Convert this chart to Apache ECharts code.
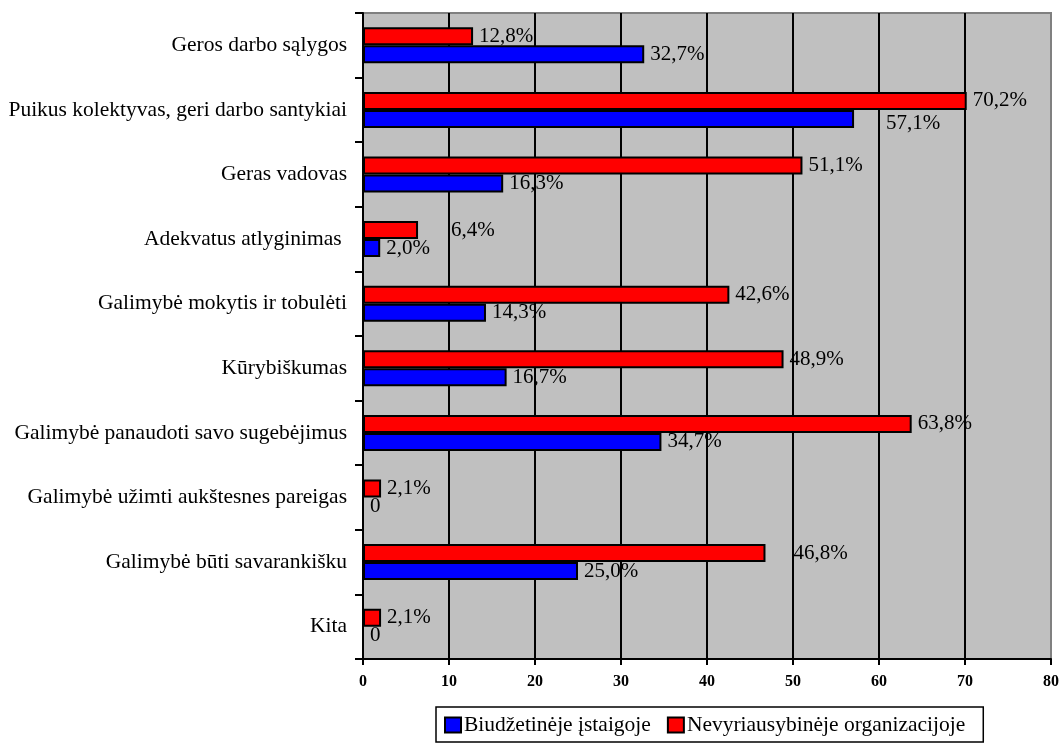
<!DOCTYPE html>
<html>
<head>
<meta charset="utf-8">
<script src="https://cdn.jsdelivr.net/npm/echarts@6/dist/echarts.min.js"></script>
<style>
  html, body { margin: 0; padding: 0; background: #fff; }
  #chart { width: 1062px; height: 745px; }
</style>
</head>
<body>
<div id="chart"></div>
<script>
// Survey categories, top to bottom
const categories = [
  'Geros darbo sąlygos',
  'Puikus kolektyvas, geri darbo santykiai',
  'Geras vadovas',
  'Adekvatus atlyginimas ',
  'Galimybė mokytis ir tobulėti',
  'Kūrybiškumas',
  'Galimybė panaudoti savo sugebėjimus',
  'Galimybė užimti aukštesnes pareigas',
  'Galimybė būti savarankišku',
  'Kita'
];

const seriesNames = ['Biudžetinėje įstaigoje', 'Nevyriausybinėje organizacijoje'];

// Percent of respondents
const budgetValues = [32.7, 57.1, 16.3, 2.0, 14.3, 16.7, 34.7, 0, 25.0, 0];
const ngoValues    = [12.8, 70.2, 51.1, 6.4, 42.6, 48.9, 63.8, 2.1, 46.8, 2.1];

const xTicks = [0, 10, 20, 30, 40, 50, 60, 70, 80];

// A few value labels are nudged away from the bar end
const ngoLabelShift = { 3: [27, 0], 8: [22, 0] };
const budgetLabelShift = { 1: [26, 5] };

const serif = '"Liberation Serif", "DejaVu Serif", serif';

function fmt(v) {
  return v === 0 ? '0' : v.toFixed(1).replace('.', ',') + '%';
}

function buildData(values, shifts) {
  return values.map((v, i) => {
    const item = { value: v };
    if (shifts[i]) item.label = { offset: shifts[i] };
    return item;
  });
}

const labelStyle = {
  show: true,
  position: 'right',
  distance: 6,
  color: '#000',
  fontFamily: serif,
  fontSize: 21,
  formatter: p => fmt(p.value)
};

const chart = echarts.init(document.getElementById('chart'), null, { renderer: 'canvas' });

chart.setOption({
  backgroundColor: '#ffffff',
  animation: false,
  grid: {
    left: 363,
    right: 7,
    top: 13,
    bottom: 86,
    show: true,
    backgroundColor: '#C0C0C0',
    borderColor: '#808080',
    borderWidth: 2
  },
  legend: {
    data: seriesNames,
    top: 707,
    left: 436,
    orient: 'horizontal',
    backgroundColor: '#ffffff',
    borderColor: '#000',
    borderWidth: 1.5,
    padding: [7, 18, 6, 8],
    itemWidth: 16,
    itemHeight: 15,
    itemGap: 16,
    icon: 'rect',
    textStyle: { fontFamily: serif, fontSize: 21.5, color: '#000', padding: [0, 0, 0, -2] }
  },
  xAxis: {
    type: 'value',
    min: 0,
    max: 80,
    interval: 10,
    axisLine: { show: true, lineStyle: { color: '#000', width: 2 } },
    axisTick: { show: true, length: 6, lineStyle: { color: '#000', width: 2 } },
    axisLabel: {
      margin: 15,
      color: '#000',
      fontFamily: serif,
      fontWeight: 'bold',
      fontSize: 16,
      formatter: v => (xTicks.includes(v) ? String(v) : '')
    },
    splitLine: {
      show: true,
      showMinLine: false,
      showMaxLine: false,
      lineStyle: { color: '#000', width: 2 }
    }
  },
  yAxis: {
    type: 'category',
    inverse: true,
    data: categories,
    axisLine: { show: true, lineStyle: { color: '#000', width: 2 } },
    axisTick: { show: true, length: 8, lineStyle: { color: '#000', width: 2 } },
    axisLabel: {
      margin: 16,
      color: '#000',
      fontFamily: serif,
      fontSize: 21.5
    },
    splitLine: { show: false }
  },
  series: [
    {
      name: seriesNames[1],
      type: 'bar',
      data: buildData(ngoValues, ngoLabelShift),
      barWidth: 18,
      barGap: '0%',
      itemStyle: { color: '#FF0000', borderColor: '#000', borderWidth: 2 },
      label: labelStyle
    },
    {
      name: seriesNames[0],
      type: 'bar',
      data: buildData(budgetValues, budgetLabelShift),
      barWidth: 18,
      barGap: '0%',
      itemStyle: { color: '#0000FF', borderColor: '#000', borderWidth: 2 },
      label: labelStyle
    }
  ]
});
</script>
</body>
</html>
